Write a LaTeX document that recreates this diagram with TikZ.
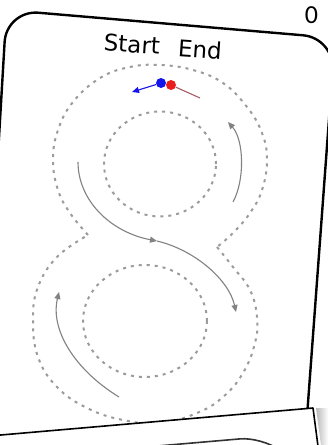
\documentclass[tikz,border=0pt]{standalone}
\usepackage{fontspec}
\newfontfamily\handfont{DejaVu Sans}
\newfontfamily\numfont{Carlito}
\usetikzlibrary{arrows.meta}
\definecolor{dashgray}{RGB}{155,155,155}
\definecolor{arrowgray}{RGB}{130,130,130}
\definecolor{startblue}{RGB}{20,20,235}
\definecolor{endred}{RGB}{235,30,30}
\definecolor{endline}{RGB}{165,95,100}
\tikzset{
  cardline/.style={line width=2.4pt, draw=black, line join=round},
  guide/.style={draw=dashgray, line width=2pt, dash pattern=on 3pt off 5pt},
  traceline/.style={draw=arrowgray, line width=1.1pt},
  tracetip/.style={-{Triangle[length=7pt,width=6pt]}},
  label/.style={font=\handfont\fontsize{23}{26}\selectfont, inner sep=0pt}
}
\begin{document}
\begin{tikzpicture}[x=1pt,y=-1pt]
\useasboundingbox (0,0) rectangle (328,445);
\clip (0,0) rectangle (328,445);
\fill[white] (0,0) rectangle (328,445);

% first card
\draw[cardline, rounded corners=32pt] (-20.6,470) -- (6.5,10) -- (335,38) -- (306,430);

% number
\node[font=\numfont\fontsize{26}{28}\selectfont, inner sep=0pt] (num) at (311.5,15.5) {0};

% labels
\node[label, rotate=-4] (start) at (132,44) {Start};
\node[label, rotate=-4] (end) at (200,49) {End};

% outline of the 8
\draw[guide] plot[smooth, tension=0.7] coordinates {(88,235) (70,213) (58,190) (53,160) (58,130) (73,102) (100,78) (130,67) (160,65) (193,70) (223,83) (247,107) (262,133) (267,160) (262,190) (250,213) (233,233) (217,247)};
\draw[guide] plot[smooth, tension=0.7] coordinates {(217,247) (233,267) (250,290) (257,317) (255,343) (243,373) (223,397) (197,413) (160,423) (123,420) (87,408) (57,387) (38,357) (33,320) (38,287) (57,257) (88,235)};
\draw[guide] (160,164) ellipse [x radius=56pt, y radius=52.5pt];
\draw[guide] (145,321) ellipse [x radius=62pt, y radius=56pt];

% tracing arrows
\coordinate (a1) at (233,202);
\coordinate (a2) at (228,122);
\draw[traceline, tracetip] (a1) .. controls (245,180) and (244,140) .. (a2);

\coordinate (b1) at (78,162);
\coordinate (b2) at (157,241);
\coordinate (b3) at (236,312);
\draw[traceline, tracetip] (b1) .. controls (78,200) and (110,232) .. (b2);
\draw[traceline, tracetip] (b2) .. controls (195,250) and (229,280) .. (b3);

\coordinate (c1) at (119,397);
\coordinate (c2) at (59,292);
\draw[traceline, tracetip] (c1) .. controls (75,370) and (50,330) .. (c2);

% start / end markers
\coordinate (bluetip) at (132,92);
\coordinate (redend) at (200,98);
\node[circle, fill=startblue, minimum size=10pt, inner sep=0pt] (bdot) at (161,83) {};
\draw[startblue, line width=1.1pt, -{Triangle[length=7pt,width=6pt]}] (bdot) -- (bluetip);
\node[circle, fill=endred, minimum size=10pt, inner sep=0pt] (rdot) at (171,85) {};
\draw[endline, line width=1.1pt] (rdot) -- (redend);

% second card
\shade[left color=gray!55, right color=white] (316,408) -- (328,408) -- (328,445) -- (321,445) -- cycle;
\fill[white] (-5,436.5) -- (313,408) -- (318.5,450) -- (-5,450) -- cycle;
\draw[line width=1.6pt, line join=round] (-5,435.5) -- (313,408) -- (318.5,450);
\draw[line width=1.6pt, draw=black!80, rounded corners=22pt] (140,447.5) -- (262,437) -- (300,465);
\end{tikzpicture}
\end{document}
